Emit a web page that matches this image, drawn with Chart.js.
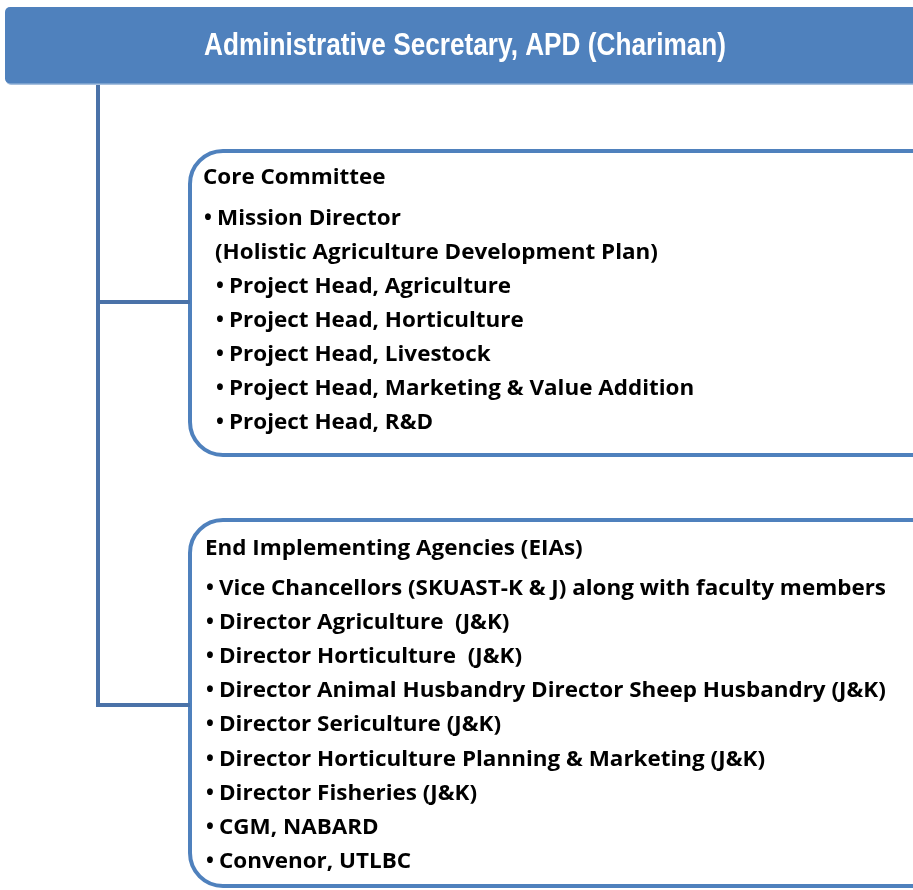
<!DOCTYPE html>
<html>
<head>
<meta charset="utf-8">
<script src="https://cdn.jsdelivr.net/npm/chart.js@4.4.1/dist/chart.umd.min.js"></script>
<style>
  body { margin: 0; background: #fff; }
  #wrap { width: 913px; height: 890px; }
</style>
</head>
<body>
<div id="wrap"><canvas id="orgChart" width="913" height="890"></canvas></div>
<script>
// texts of the chart
var headerTitle = 'Administrative Secretary, APD (Chariman)';
var coreTitle = 'Core Committee';
var coreItems = [
    '\u2022Mission Director',
    '(Holistic Agriculture Development Plan)',
    '\u2022Project Head, Agriculture',
    '\u2022Project Head, Horticulture',
    '\u2022Project Head, Livestock',
    '\u2022Project Head, Marketing & Value Addition',
    '\u2022Project Head, R&D'
];
var eiaTitle = 'End Implementing Agencies (EIAs)';
var eiaItems = [
    '\u2022Vice Chancellors (SKUAST-K & J) along with faculty members',
    '\u2022Director Agriculture  (J&K)',
    '\u2022Director Horticulture  (J&K)',
    '\u2022Director Animal Husbandry Director Sheep Husbandry (J&K)',
    '\u2022Director Sericulture (J&K)',
    '\u2022Director Horticulture Planning & Marketing (J&K)',
    '\u2022Director Fisheries (J&K)',
    '\u2022CGM, NABARD',
    '\u2022Convenor, UTLBC'
];

var blue = '#4F81BD';
var lineBlue = '#4A72A8';
var textFont = "bold 21px 'Open Sans', 'Noto Sans', sans-serif";

function roundRect(ctx, x, y, w, h, r) {
    ctx.beginPath();
    ctx.moveTo(x + r, y);
    ctx.lineTo(x + w - r, y);
    ctx.arcTo(x + w, y, x + w, y + r, r);
    ctx.lineTo(x + w, y + h - r);
    ctx.arcTo(x + w, y + h, x + w - r, y + h, r);
    ctx.lineTo(x + r, y + h);
    ctx.arcTo(x, y + h, x, y + h - r, r);
    ctx.lineTo(x, y + r);
    ctx.arcTo(x, y, x + r, y, r);
    ctx.closePath();
}

var orgPlugin = {
    id: 'orgPlugin',
    beforeDatasetsDraw: function (chart) {
        var ctx = chart.ctx;
        var xs = chart.scales.x, ys = chart.scales.y;
        function X(v) { return xs.getPixelForValue(v); }
        function Y(v) { return ys.getPixelForValue(v); }

        ctx.save();
        // header
        ctx.fillStyle = '#A7C0DE';
        roundRect(ctx, X(6), Y(9), X(925) - X(6), Y(85) - Y(9), 5);
        ctx.fill();
        ctx.fillStyle = blue;
        roundRect(ctx, X(5), Y(7), X(925) - X(5), Y(83.5) - Y(7), 5);
        ctx.fill();

        // boxes
        ctx.lineWidth = 4;
        ctx.strokeStyle = blue;
        ctx.fillStyle = '#fff';
        roundRect(ctx, X(190), Y(151), X(945) - X(190), Y(455) - Y(151), 33);
        ctx.fill();
        ctx.stroke();
        roundRect(ctx, X(190), Y(520), X(945) - X(190), Y(886) - Y(520), 33);
        ctx.fill();
        ctx.stroke();
        ctx.restore();
    },
    afterDatasetsDraw: function (chart) {
        var ctx = chart.ctx;
        var xs = chart.scales.x, ys = chart.scales.y;
        function X(v) { return xs.getPixelForValue(v); }
        function Y(v) { return ys.getPixelForValue(v); }

        ctx.save();
        // header text, condensed
        ctx.font = "bold 31px 'Liberation Sans Narrow', 'Liberation Sans', Arial, sans-serif";
        ctx.fillStyle = '#fff';
        ctx.textBaseline = 'alphabetic';
        var hw = ctx.measureText(headerTitle).width;
        var hs = 522 / hw;
        ctx.save();
        ctx.translate(X(204), Y(55));
        ctx.scale(hs, 1);
        ctx.fillText(headerTitle, 0, 0);
        ctx.restore();

        // body text, bullets set apart like the original
        ctx.font = textFont;
        ctx.fillStyle = '#000';
        var sx = 667 / ctx.measureText(eiaItems[0].slice(1)).width;
        function put(t, x, y) {
            ctx.save();
            if (t.charAt(0) === '\u2022') {
                ctx.save();
                ctx.translate(X(x + 1), Y(y));
                ctx.fillText('\u2022', 0, 0);
                ctx.restore();
                t = t.slice(1);
                x += 14;
            }
            ctx.translate(X(x), Y(y));
            ctx.scale(sx, 1);
            ctx.fillText(t, 0, 0);
            ctx.restore();
        }
        put(coreTitle, 203, 184);
        coreItems.forEach(function (t, i) {
            put(t, i === 0 ? 203 : 215, 225 + i * 34);
        });
        put(eiaTitle, 205, 555);
        eiaItems.forEach(function (t, i) {
            put(t, 205, 595 + i * 34.1);
        });
        ctx.restore();
    }
};

window.onload = function () {
    var ctx = document.getElementById('orgChart').getContext('2d');
    new Chart(ctx, {
        type: 'scatter',
        data: {
            datasets: [{
                // trunk and lower branch
                data: [{ x: 98, y: 85 }, { x: 98, y: 705 }, { x: 190, y: 705 }],
                showLine: true,
                borderColor: lineBlue,
                borderWidth: 4,
                pointRadius: 0,
                borderJoinStyle: 'miter'
            },
            {
                // upper branch
                data: [{ x: 98, y: 302 }, { x: 190, y: 302 }],
                showLine: true,
                borderColor: lineBlue,
                borderWidth: 4,
                pointRadius: 0
            }]
        },
        options: {
            responsive: false,
            animation: false,
            layout: { padding: 0 },
            plugins: {
                legend: { display: false },
                tooltip: { enabled: false }
            },
            scales: {
                x: { type: 'linear', min: 0, max: 913, display: false },
                y: { type: 'linear', min: 0, max: 890, reverse: true, display: false }
            }
        },
        plugins: [orgPlugin]
    });
}
</script>
</body>
</html>
